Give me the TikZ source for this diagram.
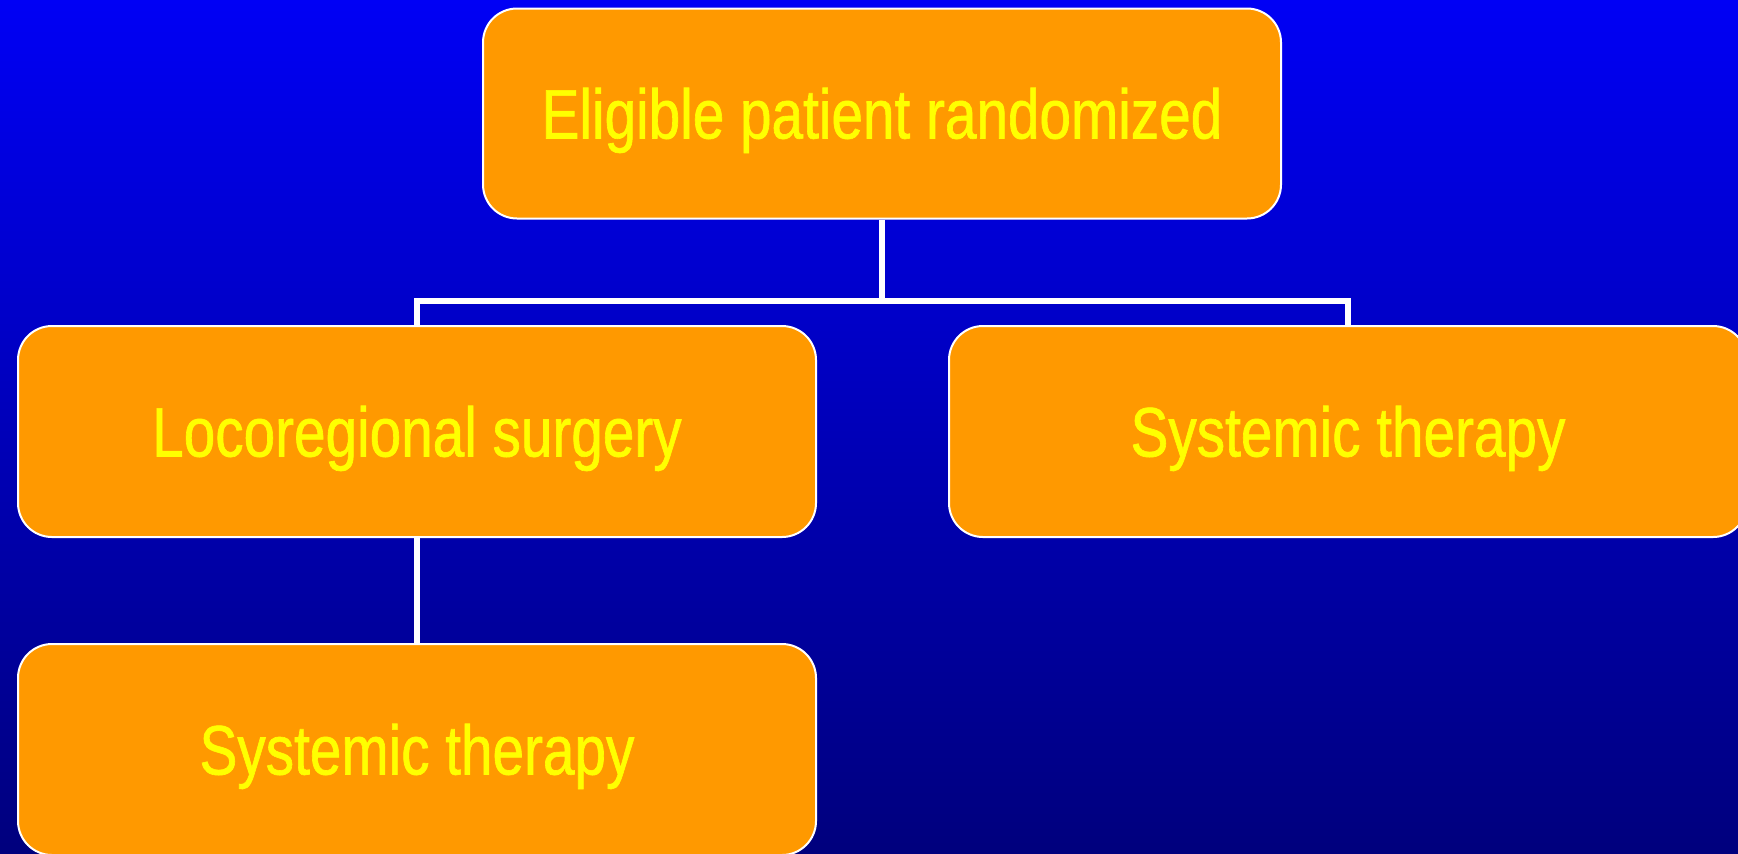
\documentclass[tikz,border=0pt]{standalone}
\usepackage{fontspec}
\setmainfont[FakeStretch=0.81, FakeBold=0.9]{Liberation Sans}
\definecolor{bgtop}{RGB}{0,0,245}
\definecolor{bgbottom}{RGB}{0,0,125}
\definecolor{boxfill}{RGB}{255,153,0}
\definecolor{boxtext}{RGB}{255,255,0}
\tikzset{
  flowbox/.style={draw=white, line width=1pt, fill=boxfill, rounded corners=17pt,
    minimum width=399pt, minimum height=105.5pt, inner sep=0pt,
    text=boxtext, font=\fontsize{35}{42}\selectfont,
    text height=25pt, text depth=0pt},
  link/.style={draw=white, line width=3pt}
}
\begin{document}
\begin{tikzpicture}[x=0.5pt, y=-0.5pt]
  \useasboundingbox (0,0) rectangle (1738,853);
  \clip (0,0) rectangle (1738,853);
  % gradient backdrop
  \shade[top color=bgtop, bottom color=bgbottom] (0,0) rectangle (1738,853);

  % boxes
  \node[flowbox, minimum height=105pt] (root) at (882,113.5) {Eligible patient randomized};
  \node[flowbox] (surg) at (417,431.5) {Locoregional surgery};
  \node[flowbox] (sysR) at (1348,431.5) {Systemic therapy};
  \node[flowbox] (sysB) at (417,749.5) {Systemic therapy};

  % connectors
  \coordinate (bus) at (882,301);
  \draw[link] (root.south) -- (bus);
  \draw[link] (surg.north) |- (bus) -| (sysR.north);
  \draw[link] (surg.south) -- (sysB.north);
\end{tikzpicture}
\end{document}
